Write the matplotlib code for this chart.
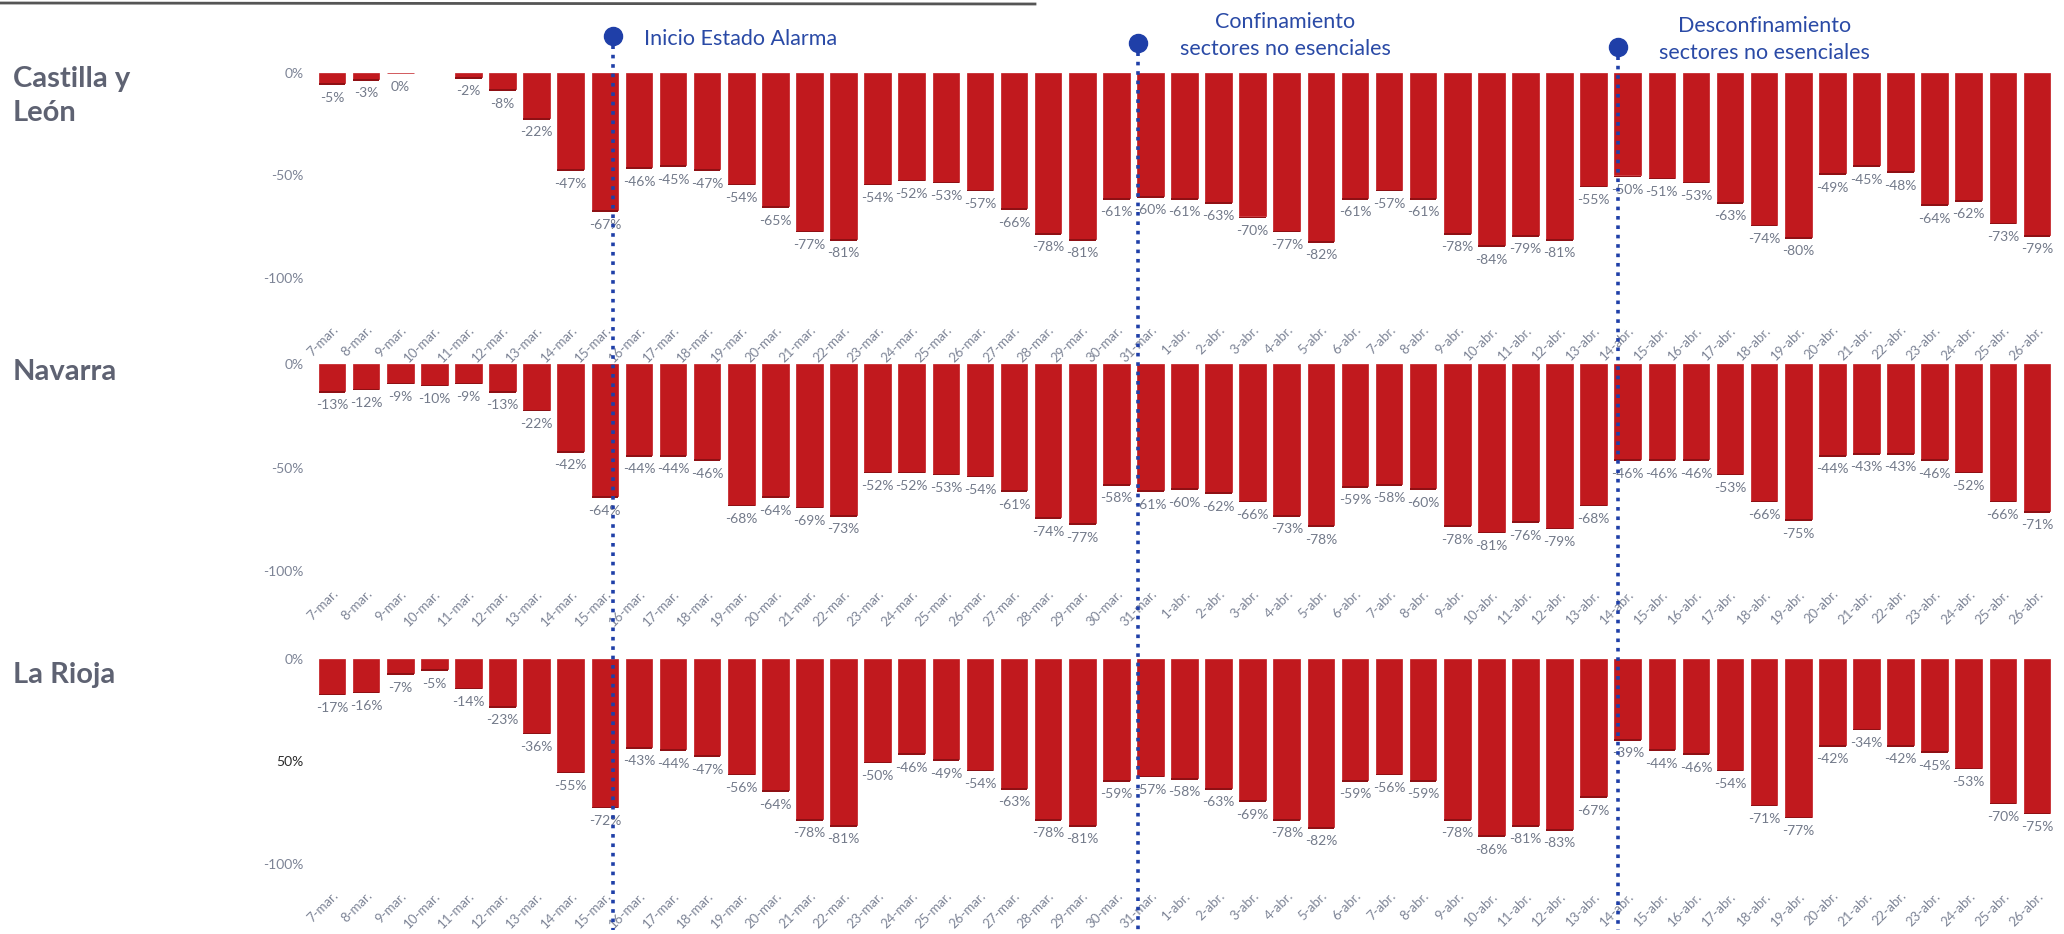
import numpy as np
import matplotlib
matplotlib.use("Agg")
import matplotlib.pyplot as plt
from matplotlib.transforms import blended_transform_factory
from matplotlib.lines import Line2D

# ---------------- data ----------------
dates = [f"{d}-mar." for d in range(7, 32)] + [f"{d}-abr." for d in range(1, 27)]

castilla_leon = [-5, -3, 0, np.nan, -2, -8, -22, -47, -67, -46, -45, -47, -54, -65, -77, -81,
                 -54, -52, -53, -57, -66, -78, -81, -61, -60,
                 -61, -63, -70, -77, -82, -61, -57, -61, -78, -84, -79, -81, -55, -50, -51,
                 -53, -63, -74, -80, -49, -45, -48, -64, -62, -73, -79]
navarra = [-13, -12, -9, -10, -9, -13, -22, -42, -64, -44, -44, -46, -68, -64, -69, -73,
           -52, -52, -53, -54, -61, -74, -77, -58, -61,
           -60, -62, -66, -73, -78, -59, -58, -60, -78, -81, -76, -79, -68, -46, -46,
           -46, -53, -66, -75, -44, -43, -43, -46, -52, -66, -71]
la_rioja = [-17, -16, -7, -5, -14, -23, -36, -55, -72, -43, -44, -47, -56, -64, -78, -81,
            -50, -46, -49, -54, -63, -78, -81, -59, -57,
            -58, -63, -69, -78, -82, -59, -56, -59, -78, -86, -81, -83, -67, -39, -44,
            -46, -54, -71, -77, -42, -34, -42, -45, -53, -70, -75]

regions = ["Castilla y\nLeón", "Navarra", "La Rioja"]
series = [castilla_leon, navarra, la_rioja]
ytick_vals = [0, -50, -100]
ytick_labels = [["0%", "-50%", "-100%"], ["0%", "-50%", "-100%"], ["0%", "50%", "-100%"]]

event_labels = ["Inicio Estado Alarma", "Confinamiento\nsectores no esenciales",
                "Desconfinamiento\nsectores no esenciales"]
event_dates = ["15-mar.", "31-mar.", "14-abr."]

# ---------------- style ----------------
W, H = 2064, 934
fig = plt.figure(figsize=(W / 100, H / 100), dpi=100)
fig.patch.set_facecolor("white")

BAR = "#c1191e"
EDGE = "#8e1014"
VAL = "#737a8a"
TICK = "#7d8496"
REG = "#5e6272"
BLUE = "#1f3fa8"
TXTBLUE = "#2a4aa6"
FONT = ["Lato", "DejaVu Sans"]


def px_axes(left, top, right, bottom):
    return fig.add_axes([left / W, 1 - bottom / H, (right - left) / W, (bottom - top) / H])


# panel geometry (pixels): zero line, px per %, axes top/bottom
panels = [dict(y0=73, s=2.05, top=60, bottom=318, label_y=[79, 113]),
          dict(y0=364, s=2.07, top=352, bottom=582, label_y=[372]),
          dict(y0=659, s=2.05, top=648, bottom=884, label_y=[675])]
X_LEFT, X_RIGHT = 315, 2054

axes = []
x = np.arange(len(dates))
for k, (p, vals) in enumerate(zip(panels, series)):
    ax = px_axes(X_LEFT, p["top"], X_RIGHT, p["bottom"])
    ymax = (p["y0"] - p["top"]) / p["s"]
    ymin = -(p["bottom"] - p["y0"]) / p["s"]
    ax.set_xlim(-0.5, len(dates) - 0.5)
    ax.set_ylim(ymin, ymax)
    v = np.array(vals, dtype=float)
    ok = ~np.isnan(v)
    ax.bar(x[ok], v[ok], width=0.78, color=BAR, edgecolor=BAR, linewidth=0.5, zorder=2)
    # dark bottom edge
    ax.bar(x[ok], np.where(v[ok] < 0, -0.8, 0), bottom=v[ok], width=0.78, color=EDGE,
           linewidth=0, zorder=3)
    for xi, vi in zip(x[ok], v[ok]):
        ax.annotate(f"{int(vi)}%", (xi, vi), xytext=(0, -6), textcoords="offset points",
                    ha="center", va="top", fontsize=10, color=VAL, family=FONT,
                    annotation_clip=False)
    ax.set_yticks(ytick_vals)
    ax.set_yticklabels(ytick_labels[k], fontsize=10, color=TICK, family=FONT)
    if k == 2:
        ax.get_yticklabels()[1].set_color("#2b2b2b")
    ax.set_xticks(x)
    ax.set_xticklabels(dates, rotation=45, ha="right", rotation_mode="anchor",
                       fontsize=9.5, color=TICK, family=FONT)
    ax.tick_params(length=0, pad=8)
    ax.tick_params(axis="x", pad=4)
    ax.set_yticks(ytick_vals)
    for sp in ax.spines.values():
        sp.set_visible(False)
    ax.patch.set_alpha(0)
    axes.append(ax)
    # region label
    lines = regions[k].split("\n")
    for line, ly in zip(lines, p["label_y"]):
        fig.text(13 / W, 1 - ly / H, line, fontsize=21, fontweight="bold", color=REG,
                 family=FONT, va="center", ha="left")

# top partial border line (cropped frame)
fig.add_artist(Line2D([0, 1035 / W], [1 - 3 / H, 1 - 4 / H], transform=fig.transFigure,
                      color="#555555", linewidth=2))

# event markers + dotted lines
ax0 = axes[0]
trans = blended_transform_factory(ax0.transData, fig.transFigure)
event_offsets = [0.25, -0.35, -0.3]
marker_y = [36, 43, 47]
for lab, d, off, my in zip(event_labels, event_dates, event_offsets, marker_y):
    xe = dates.index(d) + off
    fig.add_artist(Line2D([xe, xe], [1 - my / H, 1 - 930 / H], transform=trans,
                          color=BLUE, linewidth=2.6, linestyle=(0, (1, 1.6)), zorder=10))
    fig.add_artist(Line2D([xe], [1 - my / H], transform=trans, marker="o", markersize=13,
                          color=BLUE, zorder=11))
    if "\n" in lab:
        l1, l2 = lab.split("\n")
        cx = xe + 4.3
        fig.text(0, 0, l1, transform=trans, fontsize=15.5, color=TXTBLUE, family=FONT,
                 ha="center", va="center").set_position((cx, 1 - (my - 21) / H))
        fig.text(0, 0, l2, transform=trans, fontsize=15.5, color=TXTBLUE, family=FONT,
                 ha="center", va="center").set_position((cx, 1 - (my + 6) / H))
    else:
        fig.text(0, 0, lab, transform=trans, fontsize=15.5, color=TXTBLUE, family=FONT,
                 ha="left", va="center").set_position((xe + 0.9, 1 - (my + 3) / H))

fig.savefig("out.png", dpi=100, facecolor="white")
